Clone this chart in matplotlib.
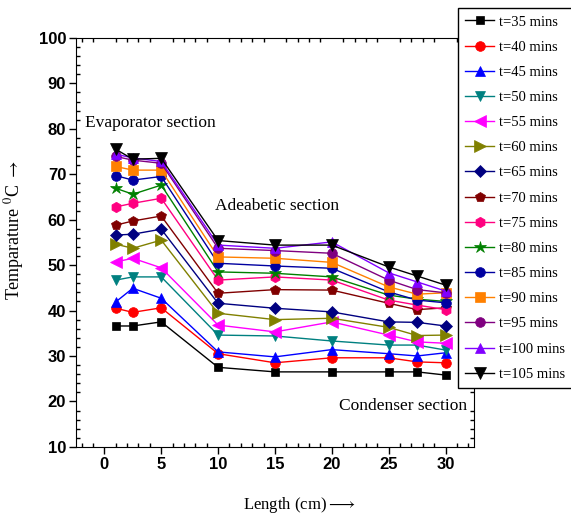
import numpy as np
import matplotlib.pyplot as plt
from matplotlib.ticker import MultipleLocator

plt.rcParams['font.family'] = ['Liberation Serif', 'DejaVu Sans']
plt.rcParams['mathtext.fontset'] = 'stix'

# ======================
# Data
# ======================
length_cm = [1, 2.5, 5, 10, 15, 20, 25, 27.5, 30]
times = [35, 40, 45, 50, 55, 60, 65, 70, 75, 80, 85, 90, 95, 100, 105]

t35 = [36.6, 36.6, 37.5, 27.5, 26.5, 26.5, 26.5, 26.5, 25.8]
t40 = [40.5, 39.6, 40.6, 30.5, 28.5, 29.6, 29.6, 28.7, 28.5]
t45 = [41.9, 44.9, 42.7, 30.9, 29.8, 31.4, 30.5, 30.0, 30.7]
t50 = [46.7, 47.4, 47.4, 34.6, 34.4, 33.3, 32.4, 32.4, 31.3]
t55 = [50.7, 51.5, 49.4, 36.8, 35.3, 37.5, 34.6, 33.1, 32.8]
t60 = [54.6, 53.7, 55.5, 39.4, 38.0, 38.3, 36.3, 34.5, 34.6]
t65 = [56.6, 56.8, 57.9, 41.6, 40.5, 39.7, 37.5, 37.4, 36.6]
t70 = [58.8, 59.7, 60.8, 43.8, 44.6, 44.5, 41.6, 40.2, 40.6]
t75 = [62.8, 63.6, 64.7, 46.7, 47.4, 46.7, 42.3, 41.2, 40.2]
t80 = [66.9, 65.6, 67.6, 48.5, 48.2, 47.4, 43.4, 42.5, 42.0]
t85 = [69.7, 68.7, 69.5, 50.4, 49.8, 49.3, 44.1, 42.3, 41.7]
t90 = [71.7, 70.9, 70.9, 51.8, 51.5, 50.6, 45.2, 43.6, 43.9]
t95 = [73.9, 73.1, 72.4, 53.7, 53.2, 52.6, 46.7, 44.6, 43.9]
t100 = [74.4, 73.6, 72.8, 54.4, 53.7, 55.1, 48.3, 46.3, 44.3]
t105 = [75.5, 73.3, 73.5, 55.4, 54.4, 54.4, 49.6, 47.6, 45.6]

series = [t35, t40, t45, t50, t55, t60, t65, t70, t75, t80, t85, t90, t95, t100, t105]

# ======================
# Styles
# ======================
colors = ['#000000', '#ff0000', '#0000ff', '#008080', '#ff00ff', '#808000',
          '#000080', '#800000', '#ff0080', '#008000', '#0000a0', '#ff8000',
          '#800080', '#8000ff', '#000000']
markers = ['s', 'o', '^', 'v', '<', '>', 'D', 'p', 'h', '*', 'o', 's', 'o', '^', 'v']
sizes = [6, 7, 7, 7, 8, 8, 6.5, 7.5, 7.5, 9, 7, 7, 7, 7, 8]

fig = plt.figure(figsize=(5.71, 5.19), dpi=100)
ax = fig.add_axes([0.133, 0.139, 0.697, 0.788])

handles = []
for vals, t, c, m, s in zip(series, times, colors, markers, sizes):
    h, = ax.plot(length_cm, vals, marker=m, color=c, markersize=s,
                 linewidth=1.0, markeredgewidth=0.5, label=f"t={t} mins")
    handles.append(h)

ax.set_xlim(-2.5, 32.5)
ax.set_ylim(10, 100)
ax.set_xticks([0, 5, 10, 15, 20, 25, 30])
ax.xaxis.set_minor_locator(MultipleLocator(1))
ax.yaxis.set_major_locator(MultipleLocator(10))
ax.yaxis.set_minor_locator(MultipleLocator(2))
ax.tick_params(which='major', direction='out', length=5, width=1, pad=2)
ax.tick_params(which='minor', direction='in', length=3, width=1, top=True, right=True)
for lab in ax.get_xticklabels() + ax.get_yticklabels():
    lab.set_fontfamily('Liberation Sans')
    lab.set_fontweight('bold')
    lab.set_fontsize(12)

ax.set_xlabel(r"Length (cm)$\longrightarrow$", fontsize=12)
ax.set_ylabel(r"Temparature $^{0}$C $\rightarrow$", fontsize=13)
ax.xaxis.set_label_coords(0.56, -0.118)
ax.yaxis.set_label_coords(-0.125, 0.53)

ax.text(-1.7, 81.3, "Evaporator section", fontsize=12.5, va='center')
ax.text(9.7, 63.0, "Adeabetic section", fontsize=12.5, va='center')
ax.text(20.6, 19.0, "Condenser section", fontsize=12.5, va='center')

leg = fig.legend(handles=handles, loc='upper left',
                 bbox_to_anchor=(458 / 571, 1 - 8 / 519),
                 fontsize=10.5, frameon=True, fancybox=False,
                 labelspacing=0.82, handlelength=2.0, handletextpad=0.3,
                 borderpad=0.5, borderaxespad=0)
leg.get_frame().set_edgecolor('black')
leg.get_frame().set_linewidth(1.0)
leg.get_frame().set_alpha(1)

fig.savefig("out.png", dpi=100)
